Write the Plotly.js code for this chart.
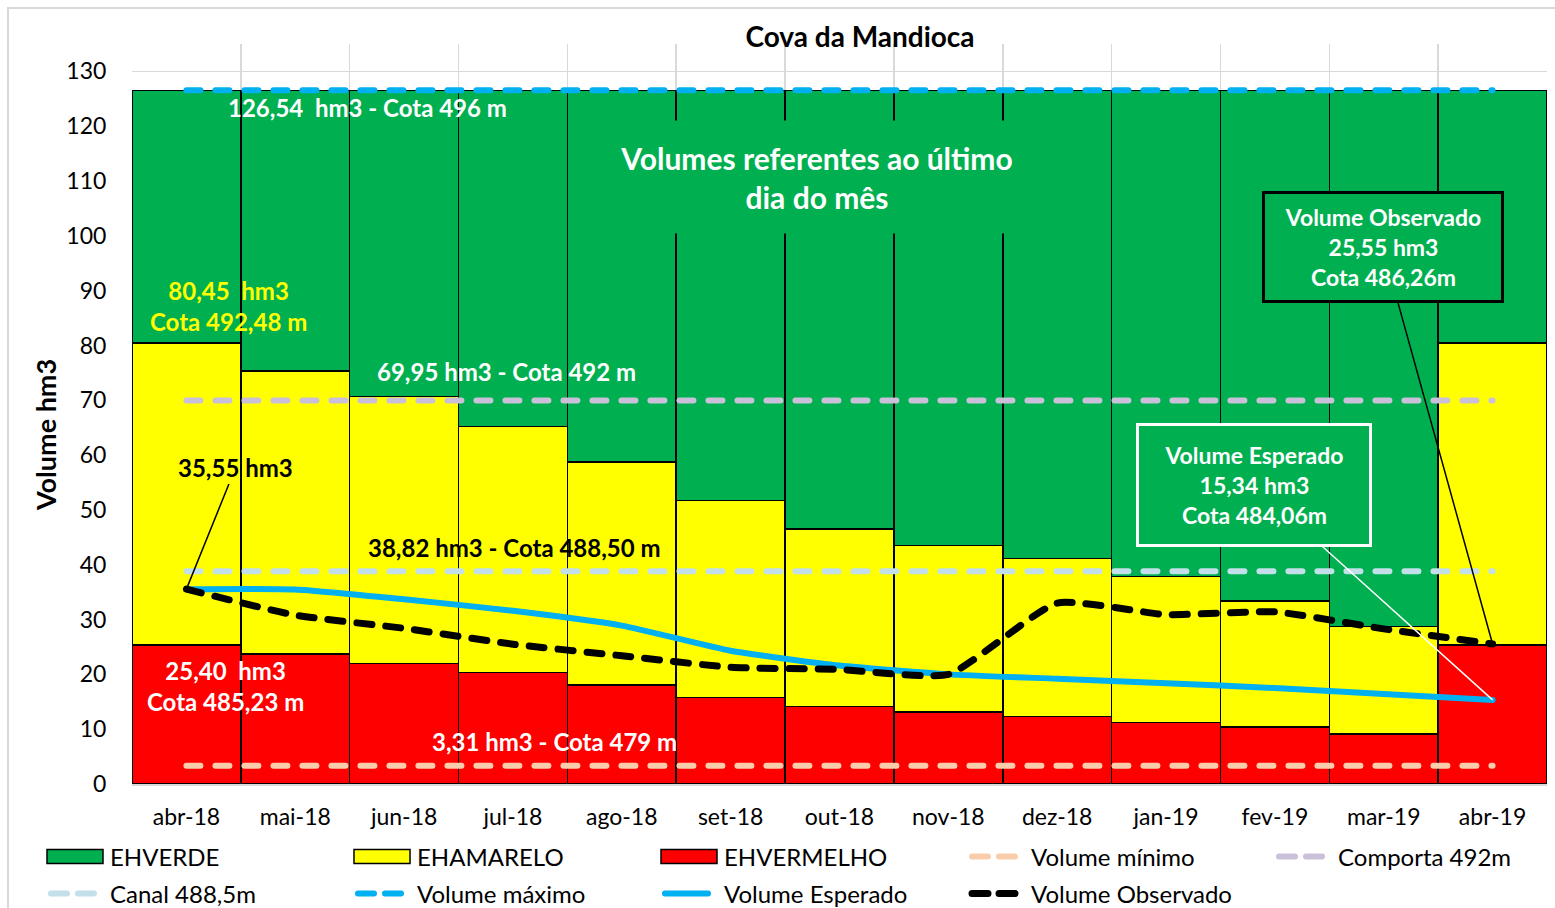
<!DOCTYPE html>
<html>
<head>
<meta charset="utf-8">
<script src="https://cdn.plot.ly/plotly-3.0.1.min.js"></script>
<style>
  html, body { margin: 0; padding: 0; background: #fff; }
  #chart { width: 1555px; height: 908px; }
  path.js-line { stroke-linecap: round; stroke-linejoin: round; }
</style>
</head>
<body>
<div id="chart"></div>
<script>
// ---- data ----
const months = ['abr-18','mai-18','jun-18','jul-18','ago-18','set-18','out-18','nov-18','dez-18','jan-19','fev-19','mar-19','abr-19'];
const ehVermelho = [25.40, 23.7, 22.0, 20.3, 18.1, 15.8, 14.1, 13.15, 12.3, 11.2, 10.4, 9.1, 25.40];
const ehAmarelo  = [55.05, 51.6, 48.65, 44.95, 40.65, 35.95, 32.4, 30.4, 28.85, 26.7, 23.0, 19.6, 55.05];
const ehVerde    = [46.09, 51.24, 55.89, 61.29, 67.79, 74.79, 80.04, 82.99, 85.39, 88.64, 93.14, 97.84, 46.09];
const volumeMinimo = [3.31, 3.31, 3.31, 3.31, 3.31, 3.31, 3.31, 3.31, 3.31, 3.31, 3.31, 3.31, 3.31];
const comporta492  = [69.95, 69.95, 69.95, 69.95, 69.95, 69.95, 69.95, 69.95, 69.95, 69.95, 69.95, 69.95, 69.95];
const canal4885    = [38.82, 38.82, 38.82, 38.82, 38.82, 38.82, 38.82, 38.82, 38.82, 38.82, 38.82, 38.82, 38.82];
const volumeMaximo = [126.54, 126.54, 126.54, 126.54, 126.54, 126.54, 126.54, 126.54, 126.54, 126.54, 126.54, 126.54, 126.54];
const volumeEsperado  = [35.55, 35.5, 33.7, 31.6, 28.9, 24.3, 21.6, 20.0, 19.2, 18.4, 17.5, 16.4, 15.34];
const volumeObservado = [35.55, 30.8, 28.4, 25.5, 23.4, 21.3, 20.9, 20.0, 33.0, 30.9, 31.4, 28.3, 25.55];
const yTickVals = [0, 10, 20, 30, 40, 50, 60, 70, 80, 90, 100, 110, 120, 130, 135];
const yTickText = ['0','10','20','30','40','50','60','70','80','90','100','110','120','130',''];

const FONT = 'Lato, "Open Sans", sans-serif';

function bar(name, y, color, rank) {
  return {type: 'bar', name: name, x: months, y: y, legendrank: rank, legend: 'legend',
    marker: {color: color, line: {color: '#000', width: 1.5}}, hoverinfo: 'skip'};
}
function hline(name, y, color, rank, leg) {
  return {type: 'scatter', mode: 'lines', name: name, x: months, y: y, legendrank: rank, legend: leg,
    line: {color: color, width: 6, dash: '14px,15px'}, hoverinfo: 'skip'};
}

const comportaTrace = hline('Comporta 492m', comporta492, '#CBC0DA', 5, 'legend');
comportaTrace.legendwidth = 180;

const traces = [
  bar('EHVERMELHO', ehVermelho, '#FF0000', 3),
  bar('EHAMARELO', ehAmarelo, '#FFFF00', 2),
  bar('EHVERDE', ehVerde, '#00B050', 1),
  hline('Volume mínimo', volumeMinimo, '#F9CDAC', 4, 'legend'),
  comportaTrace,
  hline('Canal 488,5m', canal4885, '#C2DFEA', 6, 'legend2'),
  hline('Volume máximo', volumeMaximo, '#00B0F0', 7, 'legend2'),
  {type: 'scatter', mode: 'lines', name: 'Volume Esperado', x: months, y: volumeEsperado, legendrank: 8, legend: 'legend2',
    line: {color: '#00B0F0', width: 6, shape: 'spline', smoothing: 0.5}, hoverinfo: 'skip'},
  {type: 'scatter', mode: 'lines', name: 'Volume Observado', x: months, y: volumeObservado, legendrank: 9, legend: 'legend2',
    line: {color: '#000', width: 7, dash: '15px,14px', shape: 'spline', smoothing: 0.5}, hoverinfo: 'skip'}
];

const annFont = (size, color) => ({family: FONT, size: size, color: color, weight: 'bold'});
const annotations = [
  {x: (45 - 132) / 1415, y: (784 - 435) / 740, xref: 'paper', yref: 'paper', xanchor: 'center', yanchor: 'middle',
    text: 'Volume hm3', textangle: -90, showarrow: false, font: annFont(27, '#000')},
  {x: 1.66, y: 123.5, xref: 'x', yref: 'y', text: '126,54  hm3 - Cota 496 m', showarrow: false, font: annFont(24, '#fff')},
  {x: 5.79, y: 110.7, xref: 'x', yref: 'y', text: 'Volumes referentes ao último<br>dia do mês', showarrow: false,
    font: annFont(30, '#fff'), bgcolor: '#00B050', width: 485, height: 112, borderpad: 0},
  {x: 0.39, y: 87.2, xref: 'x', yref: 'y', text: '80,45  hm3<br>Cota 492,48 m', showarrow: false, font: annFont(24, '#FFFF00')},
  {x: 2.94, y: 75.2, xref: 'x', yref: 'y', text: '69,95 hm3 - Cota 492 m', showarrow: false, font: annFont(24, '#fff')},
  {x: 0, y: 35.55, xref: 'x', yref: 'y', ax: 0.45, ay: 57.65, axref: 'x', ayref: 'y', text: '35,55 hm3',
    showarrow: true, arrowhead: 0, arrowwidth: 1.5, arrowcolor: '#000', font: annFont(24, '#000')},
  {x: 3.01, y: 43.2, xref: 'x', yref: 'y', text: '38,82 hm3 - Cota 488,50 m', showarrow: false, font: annFont(24, '#000')},
  {x: 0.355, y: 17.9, xref: 'x', yref: 'y', text: '25,40  hm3<br>Cota 485,23 m', showarrow: false, font: annFont(24, '#fff')},
  {x: 3.38, y: 7.84, xref: 'x', yref: 'y', text: '3,31 hm3 - Cota 479 m', showarrow: false, font: annFont(24, '#fff')},
  {x: 12, y: 25.55, xref: 'x', yref: 'y', ax: 10.99, ay: 97.9, axref: 'x', ayref: 'y',
    text: 'Volume Observado<br>25,55 hm3<br>Cota 486,26m', showarrow: true, arrowhead: 0, arrowwidth: 1.5, arrowcolor: '#000',
    font: annFont(23, '#fff'), bgcolor: '#00B050', bordercolor: '#000', borderwidth: 3, borderpad: 0, width: 236, height: 106},
  {x: 12, y: 15.34, xref: 'x', yref: 'y', ax: 9.81, ay: 54.55, axref: 'x', ayref: 'y',
    text: 'Volume Esperado<br>15,34 hm3<br>Cota 484,06m', showarrow: true, arrowhead: 0, arrowwidth: 1.5, arrowcolor: '#fff',
    font: annFont(23, '#fff'), bgcolor: '#00B050', bordercolor: '#fff', borderwidth: 3, borderpad: 0, width: 230, height: 118}
];

const legendBase = {orientation: 'h', x: (40 - 132) / 1415, xanchor: 'left', yanchor: 'middle', traceorder: 'normal',
  itemwidth: 60, entrywidth: 232, bgcolor: 'rgba(0,0,0,0)', font: {family: FONT, size: 24, color: '#000'}};

const layout = {
  width: 1555, height: 908,
  margin: {l: 132, r: 8, t: 44, b: 124, autoexpand: false},
  paper_bgcolor: '#fff', plot_bgcolor: '#fff',
  barmode: 'stack', bargap: 0,
  font: {family: FONT, color: '#000'},
  title: {text: 'Cova da Mandioca', font: {family: FONT, size: 28, color: '#000', weight: 'bold'},
    x: 0.5145, xanchor: 'center', xref: 'paper', y: 1 - 37/908, yref: 'container', yanchor: 'middle'},
  xaxis: {type: 'category', tickson: 'boundaries', showgrid: true, gridcolor: '#D9D9D9', gridwidth: 1.5,
    showline: true, linecolor: '#D9D9D9', linewidth: 1.5, ticks: '', ticklabelstandoff: 12,
    tickfont: {family: FONT, size: 23, color: '#000'}, fixedrange: true, automargin: false},
  yaxis: {range: [0, 135], tickvals: yTickVals, ticktext: yTickText, showgrid: true, gridcolor: '#D9D9D9', gridwidth: 1.5,
    zeroline: false, ticks: 'outside', ticklen: 20, tickcolor: 'rgba(0,0,0,0)',
    tickfont: {family: FONT, size: 23, color: '#000'}, fixedrange: true, automargin: false},
  legend: Object.assign({}, legendBase, {y: (784 - 857) / 740}),
  legend2: Object.assign({}, legendBase, {y: (784 - 894) / 740}),
  annotations: annotations,
  shapes: [
    {type: 'rect', xref: 'paper', yref: 'paper', x0: (8 - 132) / 1415, x1: 1.02, y0: -0.2, y1: (784 - 8) / 740,
      line: {color: '#D9D9D9', width: 2}, fillcolor: 'rgba(0,0,0,0)', layer: 'below'}
  ]
};

function restyleLegendKeys(gd) {
  // widen the bar legend keys and shorten the line keys, as in the original Excel legend
  gd.querySelectorAll('g.legendpoints path').forEach(function (p) {
    if (!p.classList.contains('js-line')) p.setAttribute('d', 'M28,7H-28V-7H28Z');
  });
  gd.querySelectorAll('g.legendlines path.js-line').forEach(function (p) {
    p.setAttribute('d', 'M11,0h43');
    var da = p.style.strokeDasharray;
    if (da && da !== 'none') p.style.strokeDasharray = '16px,11px';
  });
}

Plotly.newPlot('chart', traces, layout, {displayModeBar: false, staticPlot: true}).then(function (gd) {
  restyleLegendKeys(gd);
  setTimeout(function () { restyleLegendKeys(gd); }, 50);
});
</script>
</body>
</html>
